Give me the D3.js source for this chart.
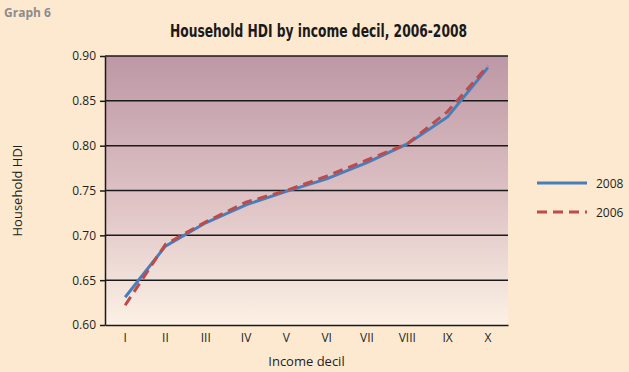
<!DOCTYPE html>
<html>
<head>
<meta charset="utf-8">
<script src="https://cdn.jsdelivr.net/npm/d3@7"></script>
<style>
  body { margin: 0; background: #fde9d0; }
  svg { display: block; }
</style>
</head>
<body>
<svg id="chart"></svg>
<script>
// data
const deciles = ['I', 'II', 'III', 'IV', 'V', 'VI', 'VII', 'VIII', 'IX', 'X'];
const hdi2008 = [0.631, 0.688, 0.714, 0.734, 0.749, 0.763, 0.781, 0.802, 0.832, 0.887];
const hdi2006 = [0.622, 0.690, 0.715, 0.737, 0.750, 0.766, 0.784, 0.802, 0.838, 0.889];
const yTicks = [0.60, 0.65, 0.70, 0.75, 0.80, 0.85, 0.90];

const W = 629, H = 372;
const margin = {top: 56, right: 121, bottom: 47, left: 105};
const width = W - margin.left - margin.right;
const height = H - margin.top - margin.bottom;

const svg = d3.select('#chart').attr('width', W).attr('height', H);

svg.append('rect').attr('width', W).attr('height', H).attr('fill', '#fde9d0');

// gradient for plot background
const grad = svg.append('defs').append('linearGradient')
  .attr('id', 'bg').attr('x1', 0).attr('x2', 0).attr('y1', 0).attr('y2', 1);
grad.append('stop').attr('offset', '0%').attr('stop-color', '#bd97a5');
grad.append('stop').attr('offset', '55%').attr('stop-color', '#dfc4c6');
grad.append('stop').attr('offset', '100%').attr('stop-color', '#fcf1e4');

svg.append('text')
  .attr('x', 4).attr('y', 17)
  .attr('font-family', 'Open Sans, sans-serif').attr('font-weight', 'bold')
  .attr('font-size', 12).attr('fill', '#8c8c8c')
  .text('Graph 6');

svg.append('text')
  .attr('x', 170).attr('y', 37)
  .attr('textLength', 297).attr('lengthAdjust', 'spacingAndGlyphs')
  .attr('font-family', 'DejaVu Sans Condensed, sans-serif')
  .attr('font-weight', 'bold').attr('font-size', 17).attr('fill', '#1a1a1a')
  .text('Household HDI by income decil, 2006-2008');

const chart = svg.append('g').attr('transform', `translate(${margin.left},${margin.top})`);

chart.append('rect').attr('width', width).attr('height', height).attr('fill', 'url(#bg)');

const x = d3.scaleBand().domain(deciles).range([0, width]);
const y = d3.scaleLinear().domain([0.60, 0.90]).range([height, 0]);

// gridlines
chart.selectAll('.grid')
  .data(yTicks.slice(1))
  .join('line')
  .attr('class', 'grid')
  .attr('x1', 0).attr('x2', width)
  .attr('y1', d => y(d)).attr('y2', d => y(d))
  .attr('stroke', '#1a1a1a').attr('stroke-width', 1.5);

const yAxis = d3.axisLeft(y).tickValues(yTicks).tickFormat(d3.format('.2f')).tickSize(5).tickSizeOuter(0);
const yg = chart.append('g').call(yAxis);
yg.select('.domain').attr('stroke', '#1a1a1a').attr('stroke-width', 1.5);
yg.selectAll('.tick line').attr('stroke', '#1a1a1a').attr('stroke-width', 1.5);
yg.selectAll('.tick text')
  .attr('font-family', 'Open Sans, sans-serif').attr('font-size', 12).attr('fill', '#231f20').attr('x', -9);

const xAxis = d3.axisBottom(x).tickSize(0).tickSizeOuter(0);
const xg = chart.append('g').attr('transform', `translate(0,${height})`).call(xAxis);
xg.select('.domain').attr('stroke', '#1a1a1a').attr('stroke-width', 1.5);
xg.selectAll('.tick text')
  .attr('font-family', 'Open Sans, sans-serif').attr('font-size', 12).attr('fill', '#231f20').attr('dy', '1.2em');

const line = d3.line()
  .x((d, i) => x(deciles[i]) + x.bandwidth() / 2)
  .y(d => y(d));

chart.append('path').datum(hdi2008)
  .attr('d', line).attr('fill', 'none')
  .attr('stroke', '#4a7ebb').attr('stroke-width', 3);

chart.append('path').datum(hdi2006)
  .attr('d', line).attr('fill', 'none')
  .attr('stroke', '#be4b48').attr('stroke-width', 3)
  .attr('stroke-dasharray', '10,6');

svg.append('text')
  .attr('transform', `translate(22,${margin.top + height / 2}) rotate(-90)`)
  .attr('text-anchor', 'middle')
  .attr('font-family', 'Open Sans, sans-serif').attr('font-size', 13).attr('fill', '#231f20')
  .text('Household HDI');

svg.append('text')
  .attr('x', margin.left + width / 2).attr('y', 366)
  .attr('text-anchor', 'middle')
  .attr('font-family', 'Open Sans, sans-serif').attr('font-size', 13).attr('fill', '#231f20')
  .text('Income decil');

// legend
const legendItems = [
  {label: '2008', color: '#4a7ebb', dash: null, y: 183},
  {label: '2006', color: '#be4b48', dash: '10,6', y: 212}
];
const lg = svg.selectAll('.legend').data(legendItems).join('g').attr('class', 'legend');
lg.append('line')
  .attr('x1', 537).attr('x2', 587)
  .attr('y1', d => d.y).attr('y2', d => d.y)
  .attr('stroke', d => d.color).attr('stroke-width', 3)
  .attr('stroke-dasharray', d => d.dash);
lg.append('text')
  .attr('x', 596).attr('y', d => d.y + 4.5)
  .attr('font-family', 'Open Sans, sans-serif').attr('font-size', 12).attr('fill', '#231f20')
  .text(d => d.label);
</script>
</body>
</html>
